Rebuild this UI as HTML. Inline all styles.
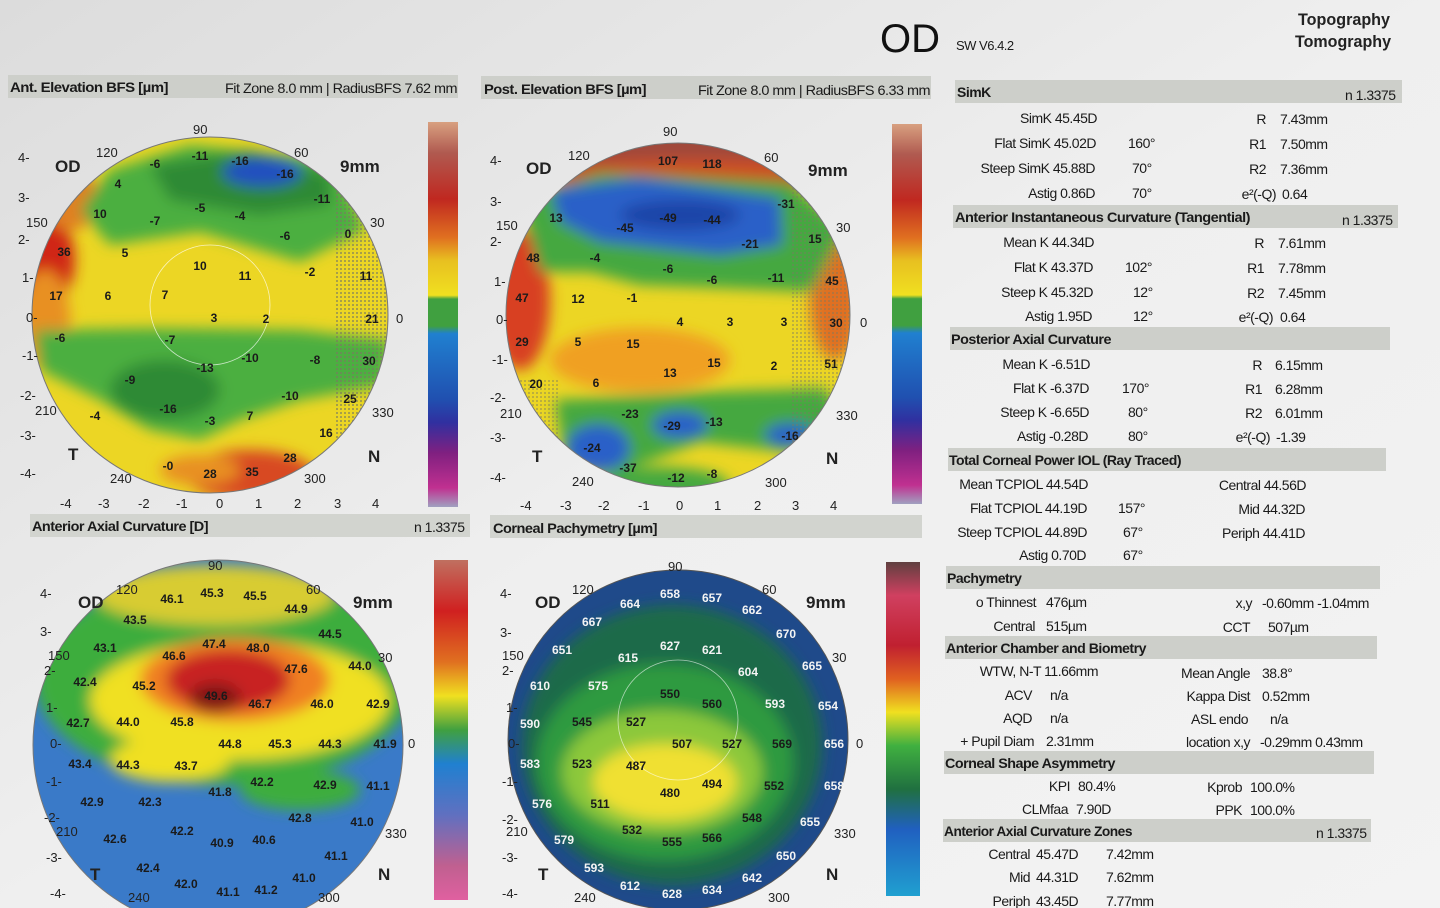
<!DOCTYPE html>
<html><head><meta charset="utf-8"><style>
html,body{margin:0;padding:0;background:#eeeeee;}
svg{display:block}
text{font-family:"Liberation Sans Narrow","Liberation Sans",sans-serif;}
.hd{font-size:14px;fill:#1a1a1a;font-weight:bold;letter-spacing:-0.5px}
.t{font-size:14px;fill:#1a1a1a;letter-spacing:-0.5px}
.m{font-size:12px;font-weight:bold;fill:#1a1a1a;text-anchor:middle}
.ax{font-size:13px;fill:#222}
.big{font-size:17px;font-weight:bold;fill:#222}
</style></head><body>
<svg width="1440" height="908" viewBox="0 0 1440 908" xmlns="http://www.w3.org/2000/svg">
<defs>
<linearGradient id="bgg" x1="0" y1="0" x2="1" y2="1"><stop offset="0" stop-color="#dcdcdc"/><stop offset="0.5" stop-color="#efefef"/><stop offset="1" stop-color="#f3f3f3"/></linearGradient>
<filter id="bl" x="-20%" y="-20%" width="140%" height="140%"><feGaussianBlur stdDeviation="7"/></filter>
<clipPath id="c1"><circle cx="210" cy="315" r="178"/></clipPath>
<clipPath id="c2"><circle cx="678" cy="315" r="172"/></clipPath>
<clipPath id="c3"><circle cx="218" cy="745" r="185"/></clipPath>
<clipPath id="c4"><circle cx="678" cy="740" r="170"/></clipPath>
<pattern id="hat" width="4" height="4" patternUnits="userSpaceOnUse"><rect width="2" height="2" fill="#7a7a60" opacity="0.6"/></pattern>
<linearGradient id="sb1" x1="0" y1="0" x2="0" y2="1">
<stop offset="0" stop-color="#d8a080"/><stop offset="0.08" stop-color="#b05a50"/><stop offset="0.2" stop-color="#c02820"/><stop offset="0.3" stop-color="#e07020"/><stop offset="0.36" stop-color="#e8c020"/><stop offset="0.45" stop-color="#f0e020"/><stop offset="0.46" stop-color="#40a040"/><stop offset="0.53" stop-color="#40a040"/><stop offset="0.55" stop-color="#2080d0"/><stop offset="0.72" stop-color="#2050b0"/><stop offset="0.78" stop-color="#3030a0"/><stop offset="0.86" stop-color="#802080"/><stop offset="0.95" stop-color="#c03090"/><stop offset="1" stop-color="#a0a0c0"/></linearGradient>
<linearGradient id="sb3" x1="0" y1="0" x2="0" y2="1">
<stop offset="0" stop-color="#c07060"/><stop offset="0.15" stop-color="#d02020"/><stop offset="0.3" stop-color="#e07020"/><stop offset="0.4" stop-color="#f0e020"/><stop offset="0.5" stop-color="#40a040"/><stop offset="0.6" stop-color="#2080d0"/><stop offset="0.75" stop-color="#6070c0"/><stop offset="0.9" stop-color="#c06090"/><stop offset="1" stop-color="#e060a0"/></linearGradient>
<linearGradient id="sb4" x1="0" y1="0" x2="0" y2="1">
<stop offset="0" stop-color="#604040"/><stop offset="0.1" stop-color="#d04060"/><stop offset="0.25" stop-color="#c02030"/><stop offset="0.35" stop-color="#e06020"/><stop offset="0.45" stop-color="#f0e020"/><stop offset="0.55" stop-color="#40b040"/><stop offset="0.68" stop-color="#207040"/><stop offset="0.8" stop-color="#2060c0"/><stop offset="1" stop-color="#20a0d0"/></linearGradient>
</defs>
<rect width="1440" height="908" fill="url(#bgg)"/>

<text x="880" y="52" style="font-size:40px" fill="#111">OD</text>
<text x="956" y="50" class="t" style="font-size:13px">SW V6.4.2</text>
<text x="1298" y="25" class="big" textLength="92" lengthAdjust="spacingAndGlyphs">Topography</text>
<text x="1295" y="47" class="big" textLength="96" lengthAdjust="spacingAndGlyphs">Tomography</text>

<rect x="8" y="75" width="450" height="23" fill="#cdcfca"/>
<text x="10" y="92" class="hd" textLength="158" lengthAdjust="spacingAndGlyphs">Ant. Elevation BFS [µm]</text>
<text x="225" y="93" class="t" textLength="232" lengthAdjust="spacingAndGlyphs">Fit Zone 8.0 mm | RadiusBFS 7.62 mm</text>
<rect x="481" y="76" width="450" height="23" fill="#cdcfca"/>
<text x="484" y="94" class="hd" textLength="162" lengthAdjust="spacingAndGlyphs">Post. Elevation BFS [µm]</text>
<text x="698" y="95" class="t" textLength="232" lengthAdjust="spacingAndGlyphs">Fit Zone 8.0 mm | RadiusBFS 6.33 mm</text>
<rect x="30" y="514" width="440" height="23" fill="#d2d4cf"/>
<text x="32" y="531" class="hd" textLength="176" lengthAdjust="spacingAndGlyphs">Anterior Axial Curvature [D]</text>
<text x="414" y="532" class="t">n 1.3375</text>
<rect x="490" y="515" width="432" height="23" fill="#d2d4cf"/>
<text x="493" y="533" class="hd" textLength="164" lengthAdjust="spacingAndGlyphs">Corneal Pachymetry [µm]</text>

<!-- MAP 1 -->
<g clip-path="url(#c1)">
<rect x="20" y="130" width="380" height="370" fill="#ecd624"/>
<g filter="url(#bl)">
<ellipse cx="40" cy="260" rx="35" ry="50" fill="#d02818"/>
<ellipse cx="45" cy="320" rx="25" ry="50" fill="#e89020"/>
<ellipse cx="70" cy="200" rx="30" ry="30" fill="#e08020"/>
<polygon points="110,170 190,145 335,160 365,230 300,262 200,232 110,245 80,210" fill="#4caf40"/>
<polygon points="150,165 250,150 330,175 330,205 260,215 170,200" fill="#2f8a34"/>
<ellipse cx="262" cy="172" rx="40" ry="15" fill="#2050c0"/>
<polygon points="35,330 150,328 300,330 390,340 385,385 300,400 240,420 200,440 150,430 100,400 40,370" fill="#4caf40"/>
<ellipse cx="165" cy="390" rx="55" ry="30" fill="#2f8a34"/>
<ellipse cx="250" cy="475" rx="65" ry="25" fill="#d84a20"/>
<ellipse cx="200" cy="470" rx="40" ry="15" fill="#e89020"/>
</g>
<rect x="335" y="140" width="70" height="360" fill="url(#hat)"/>
</g>
<circle cx="210" cy="315" r="178" fill="none" stroke="#777" stroke-width="1"/>
<circle cx="210" cy="305" r="60" fill="none" stroke="#fff" stroke-width="0.8" opacity="0.7"/>
<g class="m">
<text x="155" y="168">-6</text><text x="200" y="160">-11</text><text x="240" y="165">-16</text><text x="285" y="178">-16</text>
<text x="118" y="188">4</text><text x="100" y="218">10</text><text x="155" y="225">-7</text><text x="200" y="212">-5</text><text x="240" y="220">-4</text><text x="285" y="240">-6</text><text x="322" y="203">-11</text><text x="348" y="238">0</text>
<text x="64" y="256">36</text><text x="125" y="257">5</text><text x="200" y="270">10</text><text x="245" y="280">11</text><text x="310" y="276">-2</text><text x="366" y="280">11</text>
<text x="56" y="300">17</text><text x="108" y="300">6</text><text x="165" y="299">7</text><text x="214" y="322">3</text><text x="266" y="323">2</text><text x="372" y="323">21</text>
<text x="170" y="344">-7</text><text x="250" y="362">-10</text><text x="315" y="364">-8</text><text x="369" y="365">30</text><text x="60" y="342">-6</text>
<text x="130" y="384">-9</text><text x="205" y="372">-13</text><text x="290" y="400">-10</text><text x="350" y="403">25</text>
<text x="95" y="420">-4</text><text x="168" y="413">-16</text><text x="210" y="425">-3</text><text x="250" y="420">7</text><text x="326" y="437">16</text>
<text x="168" y="470">-0</text><text x="210" y="478">28</text><text x="252" y="476">35</text><text x="290" y="462">28</text>
</g>
<g class="ax">
<text x="193" y="134">90</text><text x="96" y="157">120</text><text x="294" y="157">60</text><text x="26" y="227">150</text><text x="370" y="227">30</text><text x="35" y="415">210</text><text x="372" y="417">330</text><text x="110" y="483">240</text><text x="304" y="483">300</text>
<text x="18" y="162">4-</text><text x="18" y="202">3-</text><text x="18" y="244">2-</text><text x="22" y="282">1-</text><text x="26" y="322">0-</text><text x="22" y="360">-1-</text><text x="20" y="400">-2-</text><text x="20" y="440">-3-</text><text x="20" y="478">-4-</text>
<text x="396" y="323">0</text>
<text x="60" y="508">-4</text><text x="98" y="508">-3</text><text x="138" y="508">-2</text><text x="176" y="508">-1</text><text x="216" y="508">0</text><text x="255" y="508">1</text><text x="294" y="508">2</text><text x="334" y="508">3</text><text x="372" y="508">4</text>
</g>
<text x="55" y="172" class="big">OD</text><text x="340" y="172" class="big">9mm</text>
<text x="68" y="460" class="big">T</text><text x="368" y="462" class="big">N</text>
<rect x="428" y="122" width="30" height="385" fill="url(#sb1)"/>

<!-- MAP 2 -->
<g clip-path="url(#c2)">
<rect x="500" y="140" width="360" height="350" fill="#ecd624"/>
<g filter="url(#bl)">
<ellipse cx="690" cy="150" rx="170" ry="28" fill="#a04a3a"/>
<ellipse cx="690" cy="175" rx="150" ry="15" fill="#d05020"/>
<ellipse cx="520" cy="300" rx="30" ry="70" fill="#d84020"/>
<ellipse cx="835" cy="300" rx="25" ry="60" fill="#e07020"/>
<polygon points="520,200 600,172 790,182 845,230 812,292 720,288 640,285 590,272 540,272" fill="#45a840"/>
<polygon points="550,190 640,178 780,198 782,245 720,255 600,242 560,222" fill="#2a60c8"/>
<ellipse cx="680" cy="215" rx="60" ry="15" fill="#1e45a8"/>
<ellipse cx="640" cy="360" rx="90" ry="32" fill="#f0a020"/>
<polygon points="555,400 700,392 825,388 845,420 790,452 700,442 620,472 565,462" fill="#45a840"/>
<ellipse cx="598" cy="448" rx="32" ry="24" fill="#2a60c8"/>
<ellipse cx="680" cy="425" rx="28" ry="14" fill="#2a60c8"/>
<ellipse cx="790" cy="435" rx="25" ry="12" fill="#2a60c8"/>
<ellipse cx="660" cy="485" rx="70" ry="18" fill="#45a840"/>
</g>
<rect x="790" y="170" width="70" height="330" fill="url(#hat)" opacity="0.7"/>
<rect x="500" y="380" width="60" height="120" fill="url(#hat)" opacity="0.7"/>
</g>
<circle cx="678" cy="315" r="172" fill="none" stroke="#777"/>
<g class="m">
<text x="668" y="165">107</text><text x="712" y="168">118</text><text x="625" y="232">-45</text><text x="668" y="222">-49</text><text x="712" y="224">-44</text><text x="750" y="248">-21</text><text x="556" y="222">13</text>
<text x="533" y="262">48</text><text x="595" y="262">-4</text><text x="668" y="273">-6</text><text x="712" y="284">-6</text><text x="776" y="282">-11</text><text x="832" y="285">45</text><text x="815" y="243">15</text><text x="786" y="208">-31</text>
<text x="522" y="302">47</text><text x="578" y="303">12</text><text x="632" y="302">-1</text><text x="680" y="326">4</text><text x="730" y="326">3</text><text x="784" y="326">3</text><text x="836" y="327">30</text>
<text x="522" y="346">29</text><text x="578" y="346">5</text><text x="633" y="348">15</text><text x="670" y="377">13</text><text x="714" y="367">15</text><text x="774" y="370">2</text><text x="831" y="368">51</text>
<text x="536" y="388">20</text><text x="596" y="387">6</text><text x="630" y="418">-23</text><text x="672" y="430">-29</text><text x="714" y="426">-13</text><text x="790" y="440">-16</text>
<text x="592" y="452">-24</text><text x="628" y="472">-37</text><text x="676" y="482">-12</text><text x="712" y="478">-8</text>
</g>
<g class="ax">
<text x="663" y="136">90</text><text x="568" y="160">120</text><text x="764" y="162">60</text><text x="496" y="230">150</text><text x="836" y="232">30</text><text x="500" y="418">210</text><text x="836" y="420">330</text><text x="572" y="486">240</text><text x="765" y="487">300</text>
<text x="490" y="165">4-</text><text x="490" y="206">3-</text><text x="490" y="246">2-</text><text x="494" y="286">1-</text><text x="496" y="324">0-</text><text x="492" y="364">-1-</text><text x="490" y="402">-2-</text><text x="490" y="442">-3-</text><text x="490" y="482">-4-</text>
<text x="860" y="327">0</text>
<text x="520" y="510">-4</text><text x="560" y="510">-3</text><text x="598" y="510">-2</text><text x="638" y="510">-1</text><text x="676" y="510">0</text><text x="714" y="510">1</text><text x="754" y="510">2</text><text x="792" y="510">3</text><text x="830" y="510">4</text>
</g>
<text x="526" y="174" class="big">OD</text><text x="808" y="176" class="big">9mm</text>
<text x="532" y="462" class="big">T</text><text x="826" y="464" class="big">N</text>
<rect x="892" y="124" width="30" height="380" fill="url(#sb1)"/>

<!-- MAP 3 -->
<g clip-path="url(#c3)">
<rect x="30" y="555" width="380" height="360" fill="#3a7ac8"/>
<g filter="url(#bl)">
<ellipse cx="225" cy="680" rx="190" ry="105" fill="#3cad3c"/>
<ellipse cx="215" cy="595" rx="120" ry="30" fill="#d8cc30"/>
<ellipse cx="240" cy="700" rx="150" ry="60" fill="#f0e020"/>
<ellipse cx="170" cy="760" rx="60" ry="22" fill="#f0e020"/>
<ellipse cx="235" cy="680" rx="95" ry="42" fill="#f08020"/>
<ellipse cx="228" cy="680" rx="62" ry="30" fill="#c82020"/>
<ellipse cx="215" cy="698" rx="26" ry="15" fill="#801818"/>
<ellipse cx="300" cy="790" rx="60" ry="20" fill="#3cad3c"/>
</g>
</g>
<circle cx="218" cy="745" r="185" fill="none" stroke="#777"/>
<g class="m">
<text x="172" y="603">46.1</text><text x="212" y="597">45.3</text><text x="255" y="600">45.5</text><text x="296" y="613">44.9</text><text x="135" y="624">43.5</text><text x="330" y="638">44.5</text>
<text x="105" y="652">43.1</text><text x="174" y="660">46.6</text><text x="214" y="648">47.4</text><text x="258" y="652">48.0</text><text x="296" y="673">47.6</text><text x="360" y="670">44.0</text>
<text x="85" y="686">42.4</text><text x="144" y="690">45.2</text><text x="216" y="700">49.6</text><text x="260" y="708">46.7</text><text x="322" y="708">46.0</text><text x="378" y="708">42.9</text>
<text x="78" y="727">42.7</text><text x="128" y="726">44.0</text><text x="182" y="726">45.8</text><text x="230" y="748">44.8</text><text x="280" y="748">45.3</text><text x="330" y="748">44.3</text><text x="385" y="748">41.9</text>
<text x="80" y="768">43.4</text><text x="128" y="769">44.3</text><text x="186" y="770">43.7</text><text x="220" y="796">41.8</text><text x="262" y="786">42.2</text><text x="325" y="789">42.9</text><text x="378" y="790">41.1</text>
<text x="92" y="806">42.9</text><text x="150" y="806">42.3</text><text x="300" y="822">42.8</text><text x="362" y="826">41.0</text>
<text x="115" y="843">42.6</text><text x="182" y="835">42.2</text><text x="222" y="847">40.9</text><text x="264" y="844">40.6</text><text x="336" y="860">41.1</text>
<text x="148" y="872">42.4</text><text x="186" y="888">42.0</text><text x="228" y="896">41.1</text><text x="266" y="894">41.2</text><text x="304" y="882">41.0</text>
</g>
<g class="ax">
<text x="208" y="570">90</text><text x="116" y="594">120</text><text x="306" y="594">60</text><text x="48" y="660">150</text><text x="378" y="662">30</text><text x="56" y="836">210</text><text x="385" y="838">330</text><text x="128" y="902">240</text><text x="318" y="902">300</text>
<text x="40" y="598">4-</text><text x="40" y="636">3-</text><text x="44" y="675">2-</text><text x="46" y="712">1-</text><text x="50" y="748">0-</text><text x="46" y="786">-1-</text><text x="44" y="822">-2-</text><text x="46" y="862">-3-</text><text x="50" y="898">-4-</text>
<text x="408" y="748">0</text>
</g>
<text x="78" y="608" class="big">OD</text><text x="353" y="608" class="big">9mm</text>
<text x="90" y="880" class="big">T</text><text x="378" y="880" class="big">N</text>
<rect x="434" y="560" width="34" height="340" fill="url(#sb3)"/>

<!-- MAP 4 -->
<g clip-path="url(#c4)">
<rect x="500" y="560" width="360" height="350" fill="#1f4a8a"/>
<g filter="url(#bl)">
<ellipse cx="672" cy="745" rx="150" ry="140" fill="#1f6a48"/>
<ellipse cx="665" cy="762" rx="128" ry="98" fill="#2f9a40"/>
<ellipse cx="662" cy="772" rx="100" ry="62" fill="#8cc83a"/>
<ellipse cx="665" cy="782" rx="72" ry="38" fill="#f0e030"/>
</g>
</g>
<circle cx="678" cy="740" r="170" fill="none" stroke="#555"/>
<circle cx="678" cy="720" r="60" fill="none" stroke="#fff" stroke-width="0.8" opacity="0.6"/>
<g class="m" style="fill:#f4f4f4">
<text x="630" y="608">664</text><text x="670" y="598">658</text><text x="712" y="602">657</text><text x="752" y="614">662</text><text x="592" y="626">667</text><text x="786" y="638">670</text>
<text x="562" y="654">651</text><text x="628" y="662">615</text><text x="670" y="650">627</text><text x="712" y="654">621</text><text x="748" y="676">604</text><text x="812" y="670">665</text>
<text x="540" y="690">610</text><text x="598" y="690">575</text><text x="775" y="708">593</text><text x="828" y="710">654</text>
<text x="530" y="728">590</text><text x="834" y="748">656</text><text x="530" y="768">583</text><text x="542" y="808">576</text><text x="834" y="790">658</text><text x="810" y="826">655</text>
<text x="564" y="844">579</text><text x="786" y="860">650</text><text x="594" y="872">593</text><text x="630" y="890">612</text><text x="672" y="898">628</text><text x="712" y="894">634</text><text x="752" y="882">642</text>
</g>
<g class="m">
<text x="670" y="698">550</text><text x="712" y="708">560</text><text x="582" y="726">545</text><text x="636" y="726">527</text><text x="682" y="748">507</text><text x="732" y="748">527</text><text x="782" y="748">569</text>
<text x="582" y="768">523</text><text x="636" y="770">487</text><text x="670" y="797">480</text><text x="712" y="788">494</text><text x="774" y="790">552</text><text x="600" y="808">511</text><text x="752" y="822">548</text><text x="632" y="834">532</text><text x="672" y="846">555</text><text x="712" y="842">566</text>
</g>
<g class="ax">
<text x="668" y="571">90</text><text x="572" y="594">120</text><text x="762" y="594">60</text><text x="502" y="660">150</text><text x="832" y="662">30</text><text x="506" y="836">210</text><text x="834" y="838">330</text><text x="574" y="902">240</text><text x="768" y="902">300</text>
<text x="500" y="598">4-</text><text x="500" y="637">3-</text><text x="502" y="675">2-</text><text x="506" y="712">1-</text><text x="508" y="748">0-</text><text x="502" y="786">-1-</text><text x="502" y="824">-2-</text><text x="502" y="862">-3-</text><text x="502" y="898">-4-</text>
<text x="856" y="748">0</text>
</g>
<text x="535" y="608" class="big">OD</text><text x="806" y="608" class="big">9mm</text>
<text x="538" y="880" class="big">T</text><text x="826" y="880" class="big">N</text>
<rect x="886" y="562" width="34" height="334" fill="url(#sb4)"/>

<!-- RIGHT PANEL -->
<g>
<rect x="955" y="80" width="447" height="23" fill="#cdcfca"/>
<text x="957" y="97" class="hd">SimK</text><text x="1345" y="100" class="t">n 1.3375</text>
<g class="t" text-anchor="end">
<text x="1097" y="123">SimK 45.45D</text><text x="1096" y="148">Flat SimK 45.02D</text><text x="1095" y="173">Steep SimK 45.88D</text><text x="1095" y="198">Astig  0.86D</text>
<text x="1266" y="124">R</text><text x="1266" y="149">R1</text><text x="1266" y="174">R2</text><text x="1276" y="199">e²(-Q)</text>
</g>
<g class="t"><text x="1128" y="148">160°</text><text x="1132" y="173">70°</text><text x="1132" y="198">70°</text>
<text x="1280" y="124">7.43mm</text><text x="1280" y="149">7.50mm</text><text x="1280" y="174">7.36mm</text><text x="1282" y="199">0.64</text></g>
<rect x="953" y="205" width="445" height="23" fill="#cdcfca"/>
<text x="955" y="222" class="hd" textLength="295" lengthAdjust="spacingAndGlyphs">Anterior Instantaneous Curvature (Tangential)</text><text x="1342" y="225" class="t">n 1.3375</text>
<g class="t" text-anchor="end">
<text x="1094" y="247">Mean K 44.34D</text><text x="1093" y="272">Flat K 43.37D</text><text x="1093" y="297">Steep K 45.32D</text><text x="1092" y="321">Astig  1.95D</text>
<text x="1264" y="248">R</text><text x="1264" y="273">R1</text><text x="1264" y="298">R2</text><text x="1273" y="322">e²(-Q)</text>
</g>
<g class="t"><text x="1125" y="272">102°</text><text x="1133" y="297">12°</text><text x="1133" y="321">12°</text>
<text x="1278" y="248">7.61mm</text><text x="1278" y="273">7.78mm</text><text x="1278" y="298">7.45mm</text><text x="1280" y="322">0.64</text></g>
<rect x="950" y="327" width="440" height="23" fill="#cdcfca"/>
<text x="951" y="344" class="hd" textLength="160" lengthAdjust="spacingAndGlyphs">Posterior Axial Curvature</text>
<g class="t" text-anchor="end">
<text x="1090" y="369">Mean K -6.51D</text><text x="1089" y="393">Flat K -6.37D</text><text x="1089" y="417">Steep K -6.65D</text><text x="1088" y="441">Astig -0.28D</text>
<text x="1262" y="370">R</text><text x="1262" y="394">R1</text><text x="1262" y="418">R2</text><text x="1270" y="442">e²(-Q)</text>
</g>
<g class="t"><text x="1122" y="393">170°</text><text x="1128" y="417">80°</text><text x="1128" y="441">80°</text>
<text x="1275" y="370">6.15mm</text><text x="1275" y="394">6.28mm</text><text x="1275" y="418">6.01mm</text><text x="1276" y="442">-1.39</text></g>
<rect x="948" y="448" width="438" height="23" fill="#cdcfca"/>
<text x="949" y="465" class="hd" textLength="232" lengthAdjust="spacingAndGlyphs">Total Corneal Power IOL (Ray Traced)</text>
<g class="t" text-anchor="end">
<text x="1088" y="489">Mean TCPIOL 44.54D</text><text x="1087" y="513">Flat TCPIOL 44.19D</text><text x="1087" y="537">Steep TCPIOL 44.89D</text><text x="1086" y="560">Astig  0.70D</text>
<text x="1306" y="490">Central 44.56D</text><text x="1305" y="514">Mid 44.32D</text><text x="1305" y="538">Periph 44.41D</text>
</g>
<g class="t"><text x="1118" y="513">157°</text><text x="1123" y="537">67°</text><text x="1123" y="560">67°</text></g>
<rect x="946" y="566" width="434" height="23" fill="#cdcfca"/>
<text x="947" y="583" class="hd">Pachymetry</text>
<g class="t" text-anchor="end">
<text x="1036" y="607">o Thinnest</text><text x="1035" y="631">Central</text>
<text x="1252" y="608">x,y</text><text x="1250" y="632">CCT</text>
<text x="1098" y="676">WTW, N-T 11.66mm</text><text x="1032" y="700">ACV</text><text x="1032" y="723">AQD</text><text x="1034" y="746">+ Pupil Diam</text>
<text x="1250" y="678">Mean Angle</text><text x="1250" y="701">Kappa Dist</text><text x="1248" y="724">ASL endo</text><text x="1250" y="747">location x,y</text>
<text x="1070" y="791">KPI</text><text x="1068" y="814">CLMfaa</text>
<text x="1242" y="792">Kprob</text><text x="1242" y="815">PPK</text>
<text x="1030" y="859">Central</text><text x="1030" y="882">Mid</text><text x="1030" y="906">Periph</text>
</g>
<g class="t">
<text x="1046" y="607">476µm</text><text x="1046" y="631">515µm</text>
<text x="1262" y="608">-0.60mm  -1.04mm</text><text x="1268" y="632">507µm</text>
<text x="1050" y="700">n/a</text><text x="1050" y="723">n/a</text><text x="1046" y="746">2.31mm</text>
<text x="1262" y="678">38.8°</text><text x="1262" y="701">0.52mm</text><text x="1270" y="724">n/a</text><text x="1260" y="747">-0.29mm   0.43mm</text>
<text x="1078" y="791">80.4%</text><text x="1076" y="814">7.90D</text>
<text x="1250" y="792">100.0%</text><text x="1250" y="815">100.0%</text>
<text x="1036" y="859">45.47D</text><text x="1106" y="859">7.42mm</text><text x="1036" y="882">44.31D</text><text x="1106" y="882">7.62mm</text><text x="1036" y="906">43.45D</text><text x="1106" y="906">7.77mm</text>
</g>
<rect x="945" y="636" width="432" height="23" fill="#cdcfca"/>
<text x="946" y="653" class="hd" textLength="200" lengthAdjust="spacingAndGlyphs">Anterior Chamber and Biometry</text>
<rect x="944" y="751" width="430" height="23" fill="#cdcfca"/>
<text x="945" y="768" class="hd" textLength="170" lengthAdjust="spacingAndGlyphs">Corneal Shape Asymmetry</text>
<rect x="943" y="819" width="428" height="23" fill="#cdcfca"/>
<text x="944" y="836" class="hd" textLength="188" lengthAdjust="spacingAndGlyphs">Anterior Axial Curvature Zones</text><text x="1316" y="838" class="t">n 1.3375</text>
</g>
</svg>
</body></html>
